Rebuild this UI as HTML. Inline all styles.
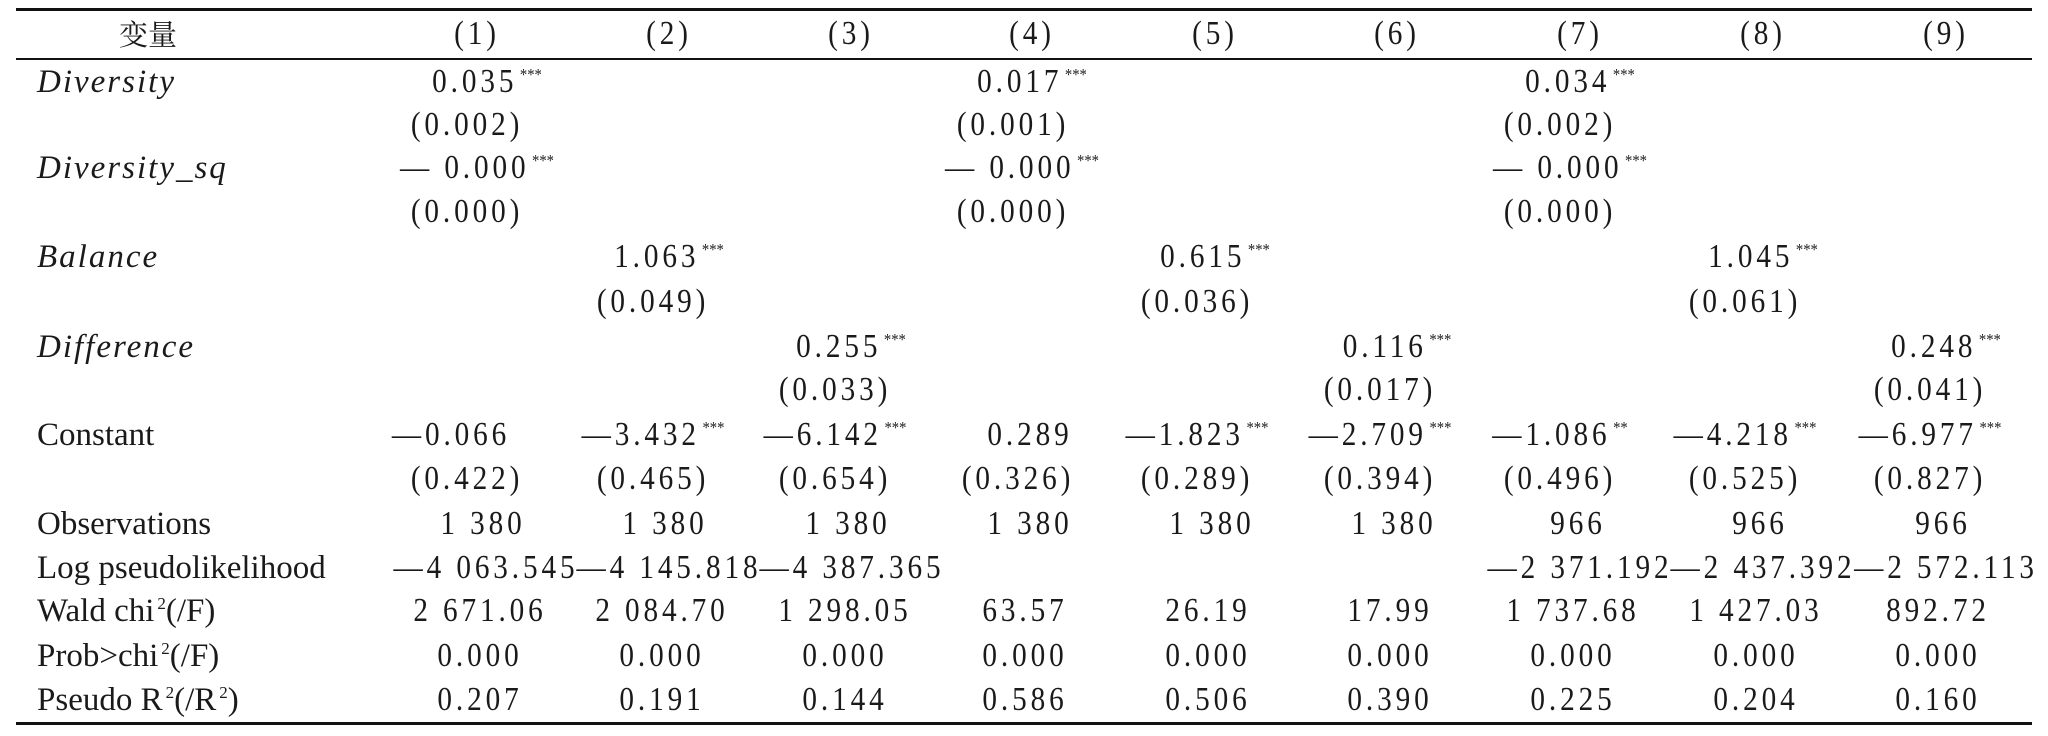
<!DOCTYPE html>
<html><head><meta charset="utf-8"><style>
html,body{margin:0;padding:0;background:#fff;}
body{width:2048px;height:736px;position:relative;overflow:hidden;font-family:"Liberation Serif","Noto Serif CJK SC",serif;color:#1a1a1a;}
.l{position:absolute;left:16px;width:2016px;background:#111;}
.t{position:absolute;height:40px;line-height:40px;font-size:34px;white-space:nowrap;}
.c{transform:translateX(-50%) scaleX(0.86);letter-spacing:4.5px;}
.lab{left:37px;font-size:33px;}
.it{font-style:italic;letter-spacing:2px;}
sup{font-size:17px;vertical-align:top;line-height:26px;letter-spacing:0;margin-left:3px;}
</style></head><body>
<div class="l" style="top:8px;height:3px"></div>
<div class="l" style="top:58px;height:2px"></div>
<div class="l" style="top:722px;height:3px"></div>

<div class="t" style="left:148px;top:14px;transform:translateX(-50%);font-family:'Noto Serif CJK SC',serif;font-size:29px">变量</div>
<div class="t c" style="left:477px;top:14px">(1)</div>
<div class="t c" style="left:669px;top:14px">(2)</div>
<div class="t c" style="left:851px;top:14px">(3)</div>
<div class="t c" style="left:1032px;top:14px">(4)</div>
<div class="t c" style="left:1215px;top:14px">(5)</div>
<div class="t c" style="left:1397px;top:14px">(6)</div>
<div class="t c" style="left:1580px;top:14px">(7)</div>
<div class="t c" style="left:1763px;top:14px">(8)</div>
<div class="t c" style="left:1946px;top:14px">(9)</div>

<div class="t lab it" style="top:62px">Diversity</div>
<div class="t c" style="left:487px;top:62px">0.035<sup>***</sup></div>
<div class="t c" style="left:1032px;top:62px">0.017<sup>***</sup></div>
<div class="t c" style="left:1580px;top:62px">0.034<sup>***</sup></div>
<div class="t c" style="left:467px;top:105px">(0.002)</div>
<div class="t c" style="left:1013px;top:105px">(0.001)</div>
<div class="t c" style="left:1560px;top:105px">(0.002)</div>

<div class="t lab it" style="top:148px">Diversity_sq</div>
<div class="t c" style="left:477px;top:148px">— 0.000<sup>***</sup></div>
<div class="t c" style="left:1022px;top:148px">— 0.000<sup>***</sup></div>
<div class="t c" style="left:1570px;top:148px">— 0.000<sup>***</sup></div>
<div class="t c" style="left:467px;top:192px">(0.000)</div>
<div class="t c" style="left:1013px;top:192px">(0.000)</div>
<div class="t c" style="left:1560px;top:192px">(0.000)</div>

<div class="t lab it" style="top:237px">Balance</div>
<div class="t c" style="left:669px;top:237px">1.063<sup>***</sup></div>
<div class="t c" style="left:1215px;top:237px">0.615<sup>***</sup></div>
<div class="t c" style="left:1763px;top:237px">1.045<sup>***</sup></div>
<div class="t c" style="left:653px;top:282px">(0.049)</div>
<div class="t c" style="left:1197px;top:282px">(0.036)</div>
<div class="t c" style="left:1745px;top:282px">(0.061)</div>

<div class="t lab it" style="top:327px">Difference</div>
<div class="t c" style="left:851px;top:327px">0.255<sup>***</sup></div>
<div class="t c" style="left:1397px;top:327px">0.116<sup>***</sup></div>
<div class="t c" style="left:1946px;top:327px">0.248<sup>***</sup></div>
<div class="t c" style="left:835px;top:370px">(0.033)</div>
<div class="t c" style="left:1380px;top:370px">(0.017)</div>
<div class="t c" style="left:1930px;top:370px">(0.041)</div>

<div class="t lab" style="top:415px">Constant</div>
<div class="t c" style="left:451px;top:415px">—0.066</div>
<div class="t c" style="left:653px;top:415px">—3.432<sup>***</sup></div>
<div class="t c" style="left:835px;top:415px">—6.142<sup>***</sup></div>
<div class="t c" style="left:1030px;top:415px">0.289</div>
<div class="t c" style="left:1197px;top:415px">—1.823<sup>***</sup></div>
<div class="t c" style="left:1380px;top:415px">—2.709<sup>***</sup></div>
<div class="t c" style="left:1560px;top:415px">—1.086<sup>**</sup></div>
<div class="t c" style="left:1745px;top:415px">—4.218<sup>***</sup></div>
<div class="t c" style="left:1930px;top:415px">—6.977<sup>***</sup></div>
<div class="t c" style="left:467px;top:459px">(0.422)</div>
<div class="t c" style="left:653px;top:459px">(0.465)</div>
<div class="t c" style="left:835px;top:459px">(0.654)</div>
<div class="t c" style="left:1018px;top:459px">(0.326)</div>
<div class="t c" style="left:1197px;top:459px">(0.289)</div>
<div class="t c" style="left:1380px;top:459px">(0.394)</div>
<div class="t c" style="left:1560px;top:459px">(0.496)</div>
<div class="t c" style="left:1745px;top:459px">(0.525)</div>
<div class="t c" style="left:1930px;top:459px">(0.827)</div>

<div class="t lab" style="top:504px">Observations</div>
<div class="t c" style="left:483px;top:504px">1 380</div>
<div class="t c" style="left:665px;top:504px">1 380</div>
<div class="t c" style="left:848px;top:504px">1 380</div>
<div class="t c" style="left:1030px;top:504px">1 380</div>
<div class="t c" style="left:1212px;top:504px">1 380</div>
<div class="t c" style="left:1394px;top:504px">1 380</div>
<div class="t c" style="left:1578px;top:504px">966</div>
<div class="t c" style="left:1760px;top:504px">966</div>
<div class="t c" style="left:1943px;top:504px">966</div>

<div class="t lab" style="top:548px">Log pseudolikelihood</div>
<div class="t c" style="left:486px;top:548px">—4 063.545</div>
<div class="t c" style="left:669px;top:548px">—4 145.818</div>
<div class="t c" style="left:852px;top:548px">—4 387.365</div>
<div class="t c" style="left:1580px;top:548px">—2 371.192</div>
<div class="t c" style="left:1763px;top:548px">—2 437.392</div>
<div class="t c" style="left:1946px;top:548px">—2 572.113</div>

<div class="t lab" style="top:591px">Wald chi<sup>2</sup>(/F)</div>
<div class="t c" style="left:480px;top:591px">2 671.06</div>
<div class="t c" style="left:662px;top:591px">2 084.70</div>
<div class="t c" style="left:845px;top:591px">1 298.05</div>
<div class="t c" style="left:1025px;top:591px">63.57</div>
<div class="t c" style="left:1208px;top:591px">26.19</div>
<div class="t c" style="left:1390px;top:591px">17.99</div>
<div class="t c" style="left:1573px;top:591px">1 737.68</div>
<div class="t c" style="left:1756px;top:591px">1 427.03</div>
<div class="t c" style="left:1938px;top:591px">892.72</div>

<div class="t lab" style="top:636px">Prob&gt;chi<sup>2</sup>(/F)</div>
<div class="t c" style="left:480px;top:636px">0.000</div>
<div class="t c" style="left:662px;top:636px">0.000</div>
<div class="t c" style="left:845px;top:636px">0.000</div>
<div class="t c" style="left:1025px;top:636px">0.000</div>
<div class="t c" style="left:1208px;top:636px">0.000</div>
<div class="t c" style="left:1390px;top:636px">0.000</div>
<div class="t c" style="left:1573px;top:636px">0.000</div>
<div class="t c" style="left:1756px;top:636px">0.000</div>
<div class="t c" style="left:1938px;top:636px">0.000</div>

<div class="t lab" style="top:680px">Pseudo R<sup>2</sup>(/R<sup>2</sup>)</div>
<div class="t c" style="left:480px;top:680px">0.207</div>
<div class="t c" style="left:662px;top:680px">0.191</div>
<div class="t c" style="left:845px;top:680px">0.144</div>
<div class="t c" style="left:1025px;top:680px">0.586</div>
<div class="t c" style="left:1208px;top:680px">0.506</div>
<div class="t c" style="left:1390px;top:680px">0.390</div>
<div class="t c" style="left:1573px;top:680px">0.225</div>
<div class="t c" style="left:1756px;top:680px">0.204</div>
<div class="t c" style="left:1938px;top:680px">0.160</div>
</body></html>
